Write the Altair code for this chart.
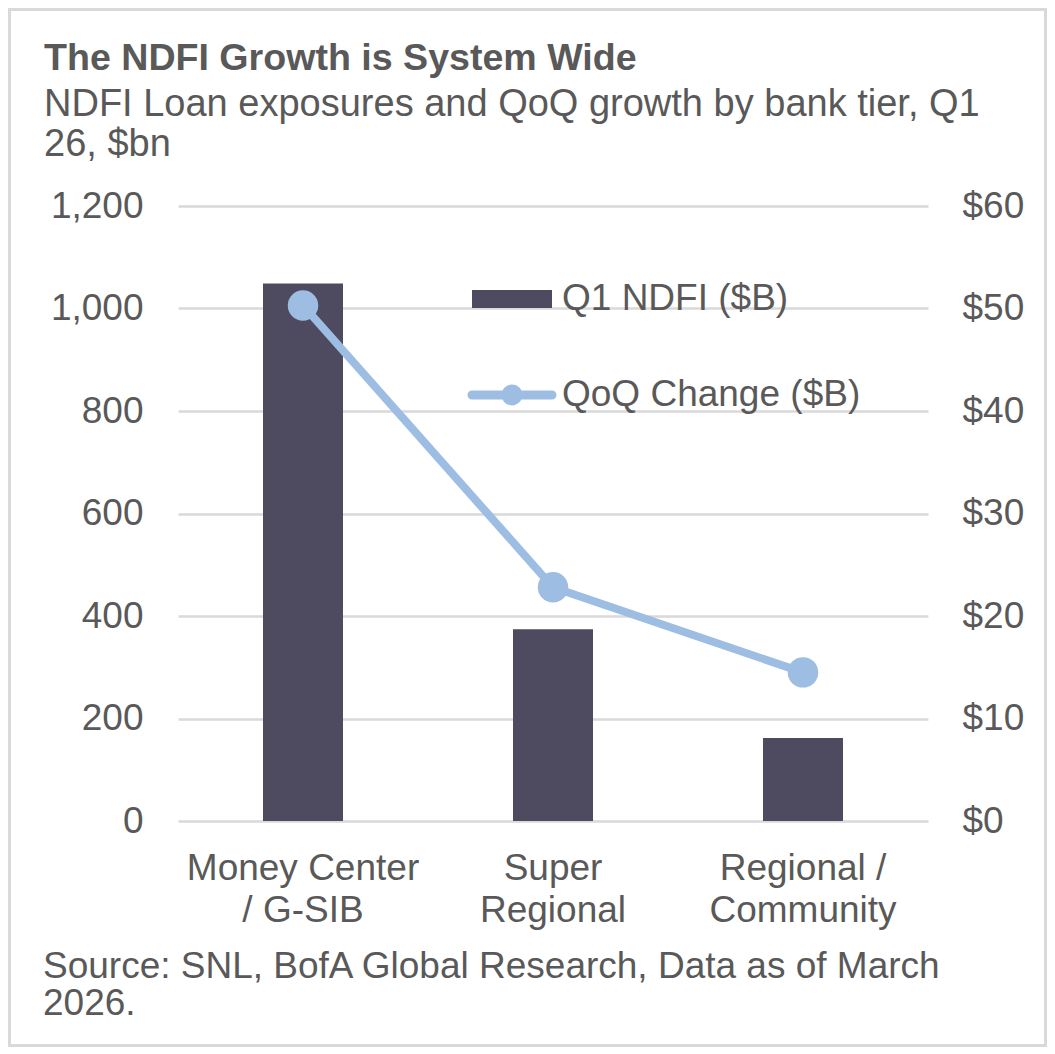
import altair as alt
import pandas as pd

# ---- data ----
categories = ["Money Center / G-SIB", "Super Regional", "Regional / Community"]
tick_lines = [["Money Center", "/ G-SIB"], ["Super", "Regional"], ["Regional /", "Community"]]
ndfi_bn = [1049, 374, 162]          # Q1 NDFI ($B), left axis
qoq_bn = [50.3, 22.8, 14.5]         # QoQ Change ($B), right axis
series_names = ["Q1 NDFI ($B)", "QoQ Change ($B)"]
left_ticks = [0, 200, 400, 600, 800, 1000, 1200]
right_ticks = [0, 10, 20, 30, 40, 50, 60]

title_text = "The NDFI Growth is System Wide"
subtitle_lines = ["NDFI Loan exposures and QoQ growth by bank tier, Q1", "26, $bn"]
source_lines = ["Source: SNL, BofA Global Research, Data as of March", "2026."]

# ---- style ----
FONT = "Liberation Sans"
TXT = "#595959"
BAR_C = "#4e4a5f"
LINE_C = "#9dbde3"
GRID_C = "#d9d9d9"
FS = 37
FS_T = 38

bars_df = pd.DataFrame({"tier": categories, "value": ndfi_bn})
line_df = pd.DataFrame({"tier": categories, "value": qoq_bn})
legend_df = pd.DataFrame({"series": series_names})

label_expr = " : ".join(
    f"datum.value == '{c}' ? {tl!r}" for c, tl in zip(categories[:-1], tick_lines[:-1])
) + f" : {tick_lines[-1]!r}"

x_enc = alt.X(
    "tier:N",
    sort=categories,
    scale=alt.Scale(paddingInner=0.68, paddingOuter=0.34),
    axis=alt.Axis(
        title=None, labelAngle=0, domain=False, ticks=False, tickSize=0, grid=False,
        labelFontSize=FS, labelColor=TXT, labelFont=FONT, labelPadding=29,
        labelLineHeight=42, labelExpr=label_expr, labelLimit=0,
    ),
)

bars = alt.Chart(bars_df).mark_bar(size=80, color=BAR_C).encode(
    x=x_enc,
    y=alt.Y(
        "value:Q",
        scale=alt.Scale(domain=[0, 1200], nice=False),
        axis=alt.Axis(
            title=None, values=left_ticks, format=",d", domain=False, ticks=False, tickSize=0,
            grid=True, gridColor=GRID_C, gridWidth=2.5,
            labelFontSize=37, labelColor=TXT, labelFont=FONT, labelPadding=35,
        ),
    ),
)

line = alt.Chart(line_df).mark_line(
    strokeWidth=8, color=LINE_C,
    point=alt.OverlayMarkDef(size=930, filled=True, opacity=1, color=LINE_C),
).encode(
    x=alt.X("tier:N", sort=categories),
    y=alt.Y(
        "value:Q",
        scale=alt.Scale(domain=[0, 60], nice=False),
        axis=alt.Axis(
            title=None, orient="right", values=right_ticks, format="$,.0f", domain=False,
            ticks=False, tickSize=0, grid=False,
            labelFontSize=37, labelColor=TXT, labelFont=FONT, labelPadding=34,
        ),
    ),
)

# legend: bar swatch and line-with-marker swatch
bar_path = "M-1,-0.225L1,-0.225L1,0.225L-1,0.225Z"
line_path = ("M-1,-0.1125L1,-0.1125A0.1125,0.1125 0 0,1 1,0.1125L-1,0.1125A0.1125,0.1125 0 0,1 -1,-0.1125Z "
             "M-0.26,0A0.26,0.26 0 1,1 0.26,0A0.26,0.26 0 1,1 -0.26,0Z")

def make_legend():
    return alt.Legend(
        title=None, orient="none", legendX=294, legendY=53, padding=0,
        symbolSize=6400, rowPadding=38, labelOffset=10, labelLimit=0,
        symbolOpacity=1, symbolStrokeWidth=0,
        labelFontSize=FS, labelColor=TXT, labelFont=FONT,
    )

legend_layer = alt.Chart(legend_df).mark_point(filled=True, opacity=0).encode(
    fill=alt.Fill("series:N", scale=alt.Scale(domain=series_names, range=[BAR_C, LINE_C]),
                  legend=make_legend()),
    shape=alt.Shape("series:N", scale=alt.Scale(domain=series_names, range=[bar_path, line_path]),
                    legend=make_legend()),
)

one = alt.Data(values=[{"t": title_text, "s": "\n".join(subtitle_lines), "src": "\n".join(source_lines)}])

title_mark = alt.Chart(one).mark_text(
    align="left", baseline="alphabetic", fontSize=37.6, fontWeight="bold", font=FONT, color=TXT
).encode(text="t:N", x=alt.value(-134), y=alt.value(-136))

subtitle_mark = alt.Chart(one).mark_text(
    align="left", baseline="alphabetic", fontSize=FS_T, font=FONT, color=TXT,
    lineBreak="\n", lineHeight=40,
).encode(text="s:N", x=alt.value(-134), y=alt.value(-90))

source_mark = alt.Chart(one).mark_text(
    align="left", baseline="alphabetic", fontSize=FS, font=FONT, color=TXT,
    lineBreak="\n", lineHeight=37,
).encode(text="src:N", x=alt.value(-135), y=alt.value(772))

border = alt.Chart(one).mark_rect(
    fillOpacity=0, stroke=GRID_C, strokeWidth=3
).encode(x=alt.value(-168.5), x2=alt.value(867.5), y=alt.value(-196.5), y2=alt.value(839.5))

chart = alt.layer(
    border, bars, line, legend_layer, title_mark, subtitle_mark, source_mark
).resolve_scale(
    y="independent"
).properties(
    width=750, height=615,
    padding={"left": 170, "top": 198, "right": 119, "bottom": 226},
    autosize=alt.AutoSizeParams(type="none"),
    background="white",
).configure(font=FONT).configure_view(strokeWidth=0, stroke="transparent")

chart.save("out.html", embed_options={"renderer": "svg", "actions": False})
